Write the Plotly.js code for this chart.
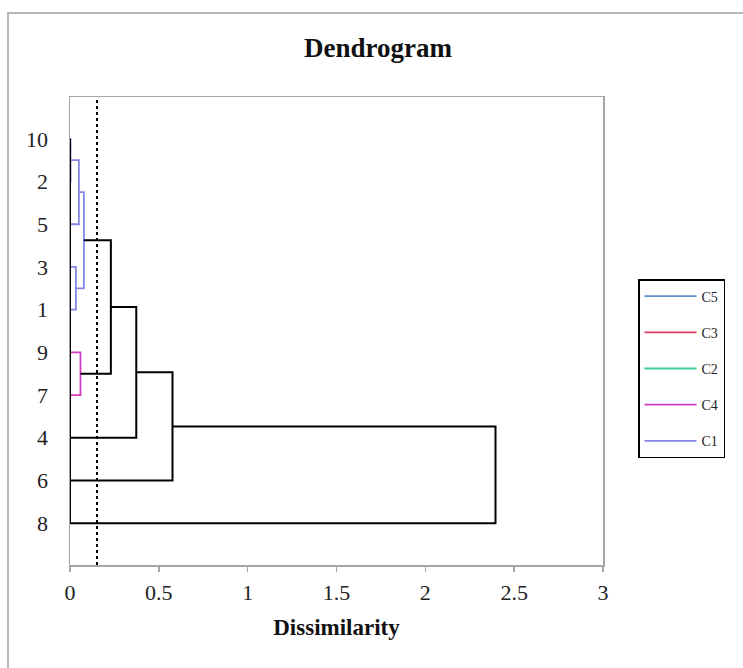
<!DOCTYPE html>
<html>
<head>
<meta charset="utf-8">
<script src="https://cdn.plot.ly/plotly-3.0.1.min.js"></script>
<style>
  html, body { margin: 0; padding: 0; background: #fff; overflow: hidden; }
  #chart { width: 743px; height: 668px; }
</style>
</head>
<body>
<div id="chart"></div>
<script>
// ---- data ----
// leaves, bottom to top
const leafOrder = ['8', '6', '4', '7', '9', '1', '3', '5', '2', '10'];
// agglomeration steps: node n(k) is created by step k (1-based)
const mergeA = ['10', '3', 'n1', '9', 'n3', 'n5', 'n6', 'n7', 'n8'];
const mergeB = ['2', '1', '5', '7', 'n2', 'n4', '4', '6', '8'];
const mergeHeight = [0.003, 0.033, 0.050, 0.059, 0.078, 0.230, 0.373, 0.577, 2.395];
// clusters obtained by cutting the tree (leaf -> class)
const leafClass = { '10': 'C1', '2': 'C1', '5': 'C1', '3': 'C1', '1': 'C1', '9': 'C4', '7': 'C4', '4': 'C5', '6': 'C3', '8': 'C2' };
const classNames = ['C5', 'C3', 'C2', 'C4', 'C1'];
const classColors = ['#5b8ec4', '#dc3c64', '#3cc8a0', '#d23cc3', '#8484e4'];
const cutLevel = 0.152;
const xTicks = [0, 0.5, 1, 1.5, 2, 2.5, 3];

// ---- build segments ----
const pos = {}, hgt = {}, members = {};
leafOrder.forEach((l, i) => { pos[l] = i + 1; hgt[l] = 0; members[l] = [l]; });
const segs = {}; classNames.forEach(c => segs[c] = { x: [], y: [] });
segs.black = { x: [], y: [] };
function add(key, xs, ys) { segs[key].x.push(...xs, null); segs[key].y.push(...ys, null); }
mergeA.forEach((a, k) => {
  const b = mergeB[k], h = mergeHeight[k], id = 'n' + (k + 1);
  members[id] = members[a].concat(members[b]);
  let key = 'black';
  if (h < cutLevel) key = leafClass[members[id][0]];
  add(key, [hgt[a], h, h, hgt[b]], [pos[a], pos[a], pos[b], pos[b]]);
  pos[id] = (pos[a] + pos[b]) / 2; hgt[id] = h;
});
// baseline at zero joining the leaves
add('black', [0, 0], [1, leafOrder.length]);

const serif = 'Liberation Serif, Times New Roman, serif';
const traces = classNames.map((c, i) => ({
  type: 'scatter', mode: 'lines', name: c, legendgroup: c,
  x: segs[c].x.length ? segs[c].x : [null], y: segs[c].y.length ? segs[c].y : [null],
  line: { color: classColors[i], width: 1.8 }, hoverinfo: 'skip'
}));
traces.push({
  type: 'scatter', mode: 'lines', name: 'tree', showlegend: false,
  x: segs.black.x, y: segs.black.y,
  line: { color: '#000', width: 2 }, hoverinfo: 'skip'
});

const L = 70, R = 140, T = 97, B = 103, W = 743, H = 668;
const pw = W - L - R, ph = H - T - B;
const px = v => (v - L) / pw, py = v => (H - B - v) / ph;

const layout = {
  width: W, height: H, autosize: false,
  margin: { l: L, r: R, t: T, b: B, pad: 0 },
  paper_bgcolor: '#fff', plot_bgcolor: '#fff',
  font: { family: serif, color: '#1a1a1a' },
  title: { text: '<b>Dendrogram</b>', font: { family: serif, size: 27, color: '#111' },
           xref: 'paper', x: px(378), xanchor: 'center', yref: 'container', y: 1 - 48 / H, yanchor: 'middle' },
  xaxis: {
    range: [0, 3], tickvals: xTicks, showgrid: false, zeroline: false,
    showline: true, mirror: true, linecolor: '#a6a6a6', linewidth: 1.5,
    ticks: 'outside', ticklen: 5, tickwidth: 1.5, tickcolor: '#a6a6a6', ticklabelstandoff: 2,
    tickfont: { family: serif, size: 22, color: '#222' },
    title: { text: '<b>Dissimilarity</b>', font: { family: serif, size: 23, color: '#111' }, standoff: 15 },
    layer: 'below traces'
  },
  yaxis: {
    range: [0.02, 10.98], tickvals: leafOrder.map((l, i) => i + 1), ticktext: leafOrder,
    showgrid: false, zeroline: false, showline: true, mirror: true,
    linecolor: '#a6a6a6', linewidth: 1.5, ticks: '', ticklabelstandoff: 16,
    tickfont: { family: serif, size: 22, color: '#222' },
    layer: 'below traces'
  },
  legend: {
    x: px(638), y: py(279), xanchor: 'left', yanchor: 'top',
    bordercolor: '#000', borderwidth: 1.5, bgcolor: '#fff',
    font: { family: serif, size: 14, color: '#222' },
    traceorder: 'grouped', tracegroupgap: 15, itemwidth: 52
  },
  shapes: [
    { type: 'line', xref: 'x', yref: 'paper', x0: cutLevel, x1: cutLevel, y0: 0, y1: 1,
      line: { color: '#000', width: 2, dash: 'dot' } },
    { type: 'rect', xref: 'paper', yref: 'paper', x0: px(8), x1: px(760), y0: py(690), y1: py(13),
      line: { color: '#b8b8b8', width: 2 }, layer: 'below' }
  ]
};

Plotly.newPlot('chart', traces, layout, { staticPlot: true, displayModeBar: false });
</script>
</body>
</html>
